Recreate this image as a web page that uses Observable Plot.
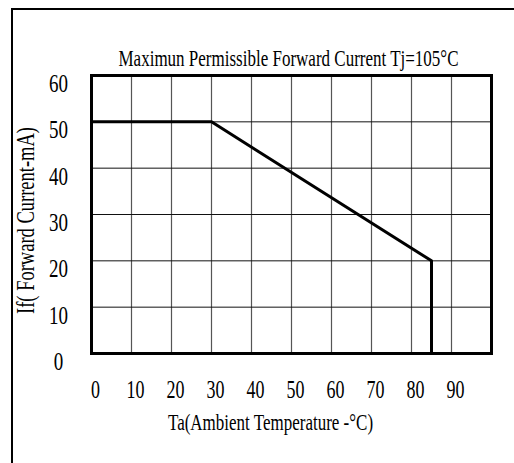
<!DOCTYPE html>
<html><head><meta charset="utf-8">
<script src="https://cdn.jsdelivr.net/npm/d3@7"></script>
<script src="https://cdn.jsdelivr.net/npm/@observablehq/plot@0.6"></script>
<style>
body{margin:0;background:#fff;}
#wrap{position:relative;width:514px;height:463px;overflow:hidden;background:#fff;font-family:"Liberation Serif",serif;}
#frame{position:absolute;left:11px;top:8px;width:700px;height:700px;border-left:2px solid #000;border-top:2px solid #000;}
#title{position:absolute;left:0;top:49px;width:577px;text-align:center;font-size:17px;line-height:20px;transform:scaleY(1.3);transform-origin:50% 50%;white-space:nowrap;color:#000;}
#chart{position:absolute;left:0;top:0;}
</style></head>
<body>
<div id="wrap"><div id="frame"></div><div id="title"></div><div id="chart"></div></div>
<script>
const titleText = "Maximun Permissible Forward Current Tj=105°C";
const xLabel = "Ta(Ambient Temperature -°C)";
const yLabel = "If( Forward Current-mA)";
const xTicks = [0, 10, 20, 30, 40, 50, 60, 70, 80, 90];
const yTicks = [0, 10, 20, 30, 40, 50, 60];
const xGrid = [10, 20, 30, 40, 50, 60, 70, 80, 90];
const yGrid = [10, 20, 30, 40, 50];
const ta = [0, 30, 85, 85];
const current = [50, 50, 20, 0];

document.getElementById("title").textContent = titleText;
const curve = ta.map((t, i) => ({ta: t, current: current[i]}));

const chart = Plot.plot({
  width: 514,
  height: 463,
  marginTop: 75,
  marginBottom: 110,
  marginLeft: 91,
  marginRight: 23,
  style: {fontFamily: "Liberation Serif", background: "transparent", color: "#000"},
  x: {domain: [0, 100]},
  y: {domain: [0, 60]},
  marks: [
    Plot.gridX(xGrid, {stroke: "#555", strokeOpacity: 1, strokeWidth: 1.2}),
    Plot.gridY(yGrid, {stroke: "#111", strokeOpacity: 1, strokeWidth: 1}),
    Plot.axisX(xTicks, {tickSize: 0, tickPadding: 30, dx: 4, fontSize: 18, label: null}),
    Plot.axisY(yTicks, {tickSize: 0, tickPadding: 33, textAnchor: "middle", dy: 8, fontSize: 19, label: null}),
    Plot.line(curve, {x: "ta", y: "current", stroke: "#000", strokeWidth: 3}),
    Plot.frame({stroke: "#000", strokeWidth: 3}),
    Plot.text([xLabel], {text: d => d, frameAnchor: "bottom", dy: 75, dx: -21, fontSize: 17}),
    Plot.text([yLabel], {text: d => d, frameAnchor: "left", textAnchor: "middle", rotate: -90, dx: -65, dy: 6, fontSize: 18.5})
  ]
});
document.getElementById("chart").appendChild(chart);

// vertical stretch of glyphs to mimic the condensed serif of the original
chart.querySelectorAll("text").forEach(t => {
  const b = t.getBBox();
  const cx = b.x + b.width / 2, cy = b.y + b.height / 2;
  const k = 1.35;
  const tr = t.getAttribute("transform") || "";
  t.setAttribute("transform", `${tr} translate(${cx},${cy}) scale(1,${k}) translate(${-cx},${-cy})`);
});
</script>
</body></html>
